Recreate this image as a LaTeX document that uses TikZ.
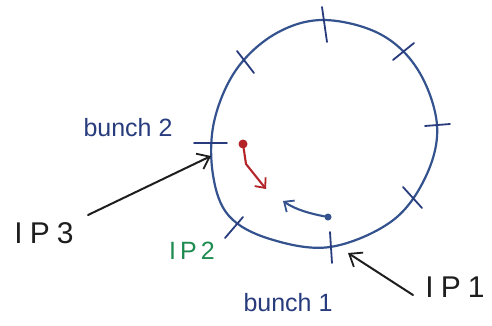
\documentclass[tikz,border=0pt]{standalone}
\usepackage{fontspec}
\setmainfont{Liberation Sans}
\usetikzlibrary{arrows.meta}
\definecolor{ringblue}{RGB}{52,82,142}
\definecolor{inkblue}{RGB}{40,60,125}
\definecolor{inkgreen}{RGB}{30,140,80}
\definecolor{inkred}{RGB}{180,35,40}
\definecolor{inkblack}{RGB}{30,30,30}
\tikzset{
  ring/.style={draw=ringblue, line width=2.2pt},
  tick/.style={draw=inkblue, line width=1.8pt, line cap=round},
  pointer/.style={draw=inkblack, line width=2pt, line cap=round,
    -{Straight Barb[length=11pt,width=17pt,line width=1.8pt]}},
  motion/.style={line width=2.1pt, line cap=round, line join=round,
    -{Straight Barb[length=8pt,width=14pt,line width=1.8pt]}},
  label/.style={inner sep=0pt, font=\fontsize{25}{25}\selectfont},
  iplabel/.style={inner sep=0pt, font=\fontsize{30}{30}\selectfont},
}
\begin{document}
\begin{tikzpicture}[x=1pt,y=-1pt]
\useasboundingbox[fill=white] (0,0) rectangle (492,325);

% storage ring
\draw[ring] plot[smooth cycle, tension=0.6] coordinates {
  (323,20) (380,34) (418,70) (437,125) (426,176) (392,221) (330,247)
  (270,239) (229,216) (213,175) (214,122) (236,70) (275,34)};

% interaction points along the ring
\draw[tick] (322,7) -- (327,42);
\draw[tick] (393,60) -- (414,43);
\draw[tick] (425,126) -- (450,124);
\draw[tick] (403,187) -- (422,208);
\draw[tick] (330,232) -- (332,263);
\draw[tick] (225,238) -- (243,217);
\draw[tick] (194,143) -- (227,143);
\draw[tick] (237,51) -- (254,73);

% bunches and their motion
\node[circle, fill=inkred, inner sep=0pt, minimum size=9pt] (redbunch) at (243,144) {};
\coordinate (redend) at (266,189);
\draw[motion, draw=inkred] (redbunch) -- (246,164) -- (redend);
\node[circle, fill=ringblue, inner sep=0pt, minimum size=7pt] (bluebunch) at (328,217) {};
\coordinate (blueend) at (283,201);
\draw[motion, draw=ringblue] (bluebunch) .. controls (312,214) and (296,210) .. (blueend);

% labels
\node[label, text=inkblue] (bunchtwo) at (128,128) {bunch 2};
\node[label, text=inkblue] (bunchone) at (288,303) {bunch 1};
\node[iplabel, text=inkblack] (ipthree) at (44,233) {I\kern7ptP\kern7pt3};
\node[iplabel, text=inkgreen, font=\fontsize{25}{25}\selectfont] (iptwo) at (192,251) {I\kern4ptP\kern4pt2};
\node[iplabel, text=inkblack] (ipone) at (455,287) {I\kern7ptP\kern7pt1};

% pointers from the interaction point labels
\coordinate (ipthreestart) at (88,215);
\coordinate (iponestart) at (413,295);
\draw[pointer] (ipthreestart) -- (211,156);
\draw[pointer] (iponestart) -- (348,253);
\end{tikzpicture}
\end{document}
